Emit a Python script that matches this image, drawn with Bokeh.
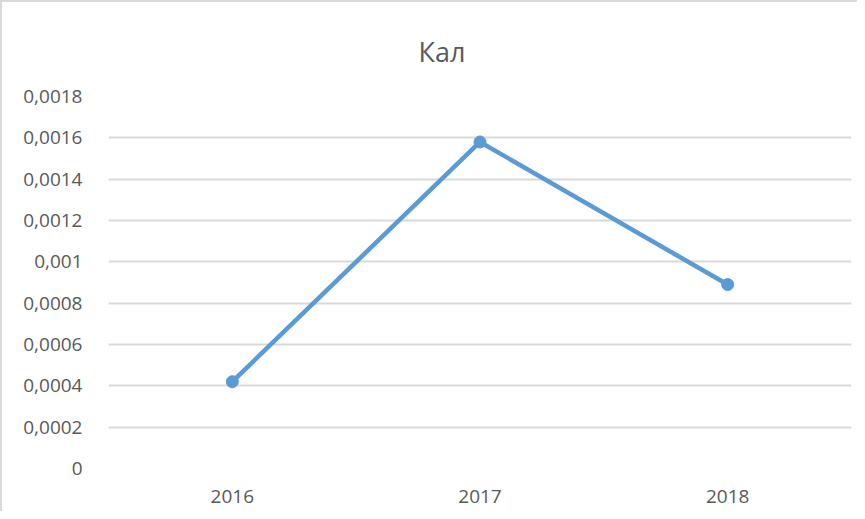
from bokeh.plotting import figure
from bokeh.models import Range1d, FixedTicker, Title, ColumnDataSource
from bokeh.embed import file_html
from bokeh.resources import INLINE

years = ["2016", "2017", "2018"]
values = [0.00042, 0.00158, 0.00089]
y_ticks = [0, 0.0002, 0.0004, 0.0006, 0.0008, 0.001, 0.0012, 0.0014, 0.0016, 0.0018]
y_labels = ["0", "0,0002", "0,0004", "0,0006", "0,0008", "0,001", "0,0012", "0,0014", "0,0016", "0,0018"]
title_text = "Кал"

FONT = "Open Sans"
GREY = "#595959"

src = ColumnDataSource(dict(x=years, y=values))

p = figure(x_range=years, y_range=Range1d(0, 0.0018), width=857, height=511,
           output_backend="svg", toolbar_location=None,
           min_border_left=106, min_border_right=8, min_border_top=94, min_border_bottom=45)
p.x_range.range_padding = 0
p.outline_line_color = None
p.background_fill_color = "white"
p.border_fill_color = "white"

p.add_layout(Title(text=title_text, align="left", text_font_size="27px",
                   text_font=FONT, text_font_style="normal", text_color=GREY,
                   standoff=54, offset=310), "above")

p.line("x", "y", source=src, line_color="#5b9bd5", line_width=4.5)
p.scatter("x", "y", source=src, size=12, fill_color="#5b9bd5", line_color="#5b9bd5")

p.yaxis.ticker = FixedTicker(ticks=y_ticks)
p.yaxis.major_label_overrides = dict(zip(y_ticks, y_labels))
for ax in (p.xaxis[0], p.yaxis[0]):
    ax.axis_line_color = None
    ax.major_tick_line_color = None
    ax.minor_tick_line_color = None
    ax.major_label_text_color = GREY
    ax.major_label_text_font = FONT
    ax.major_label_text_font_size = "19px"
p.yaxis.major_label_standoff = 20
p.xaxis.major_label_standoff = 15

p.xgrid.grid_line_color = None
p.ygrid.grid_line_color = "#d9d9d9"
p.ygrid.grid_line_width = 2

p.styles = {"border-top": "2px solid #d9d9d9", "border-left": "2px solid #d9d9d9"}

open("out.html", "w").write(file_html(p, INLINE))
